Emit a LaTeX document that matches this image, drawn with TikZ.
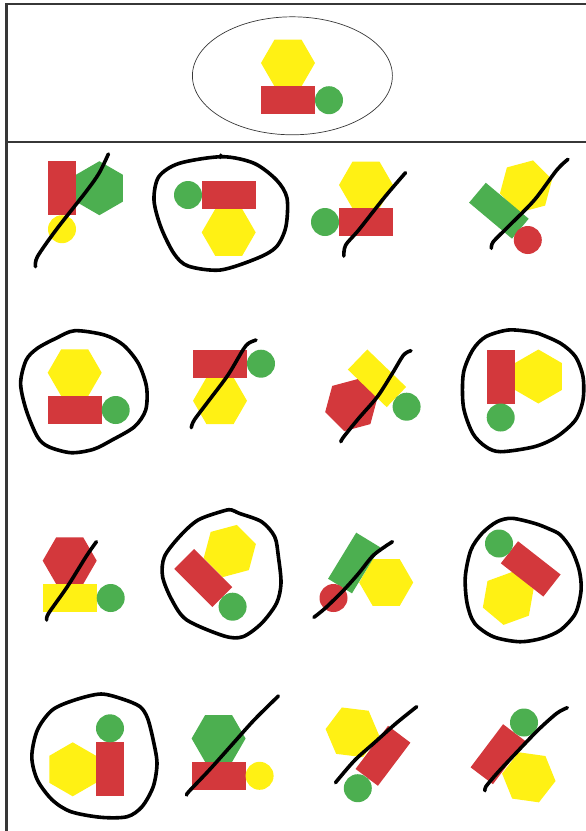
\documentclass[tikz,border=0pt]{standalone}
\usepackage{xcolor}
\definecolor{formerouge}{RGB}{211,56,60}
\definecolor{formejaune}{RGB}{255,241,20}
\definecolor{formeverte}{RGB}{76,175,80}
\definecolor{cadregris}{RGB}{55,55,55}
\usetikzlibrary{positioning,shapes.geometric}
\tikzset{
  hexa/.style={regular polygon, regular polygon sides=6, minimum size=54pt,
               inner sep=0pt, outer sep=0pt},
  rect/.style={rectangle, minimum width=54pt, minimum height=28pt,
               inner sep=0pt, outer sep=0pt},
  rectv/.style={rect, minimum width=28pt, minimum height=54pt},
  rond/.style={circle, minimum size=28pt, inner sep=0pt, outer sep=0pt},
  trait/.style={line width=3.6pt, line cap=round, line join=round},
  boucle/.style={line width=3.6pt, line join=round}
}
\begin{document}
\begin{tikzpicture}[x=1pt,y=-1pt]
      \useasboundingbox (0,0) rectangle (586,831);
      % Cadre : filets gris a gauche, en haut et sous le modele
      \draw[cadregris, line width=2.4pt] (6.5,831) -- (6.5,4) -- (586,4);
      \draw[cadregris, line width=2pt] (6.5,141.5) -- (586,141.5);
      % Modele dans son ellipse
      \node[ellipse, draw=cadregris, line width=0.7pt, minimum width=200pt,
            minimum height=118pt] (modele) at (292.4,75.8) {};
      \node[hexa, fill=formejaune] (hexmod) at (288,63) {};
      \node[rect, fill=formerouge] (rectmod) at (288,100.2) {};
      \node[rond, fill=formeverte, right=0pt of rectmod] (rondmod) {};

      % Ligne 1
      \node[rectv, fill=formerouge] (rectA) at (62,188.2) {};
      \node[hexa, fill=formeverte, rotate=30] (hexA) at (99.4,188.2) {};
      \node[rond, fill=formejaune, below=0pt of rectA] (rondA) {};
      \draw[trait] plot[smooth] coordinates {(35.5,266.7) (37.4,256.7) (56,230)
        (86,191.7) (99,173.3) (108.4,154)};

      \node[rond, fill=formeverte] (rondB) at (188,195) {};
      \node[rect, fill=formerouge, right=0pt of rondB] (rectB) {};
      \node[hexa, fill=formejaune] (hexB) at (228.7,232.4) {};
      \draw[boucle] plot[smooth cycle] coordinates {(222.3,156.7) (254.1,163.3)
        (276.5,180) (287,198) (285.9,226.7) (276.5,246.7) (257.8,258)
        (220.5,270) (188,266) (173.8,253.3) (160.7,226.7) (154,200)
        (158.8,176.7) (179.4,163.3)};
      \draw[boucle] (219,158) -- (222,154.5);

      \node[hexa, fill=formejaune] (hexC) at (366,185) {};
      \node[rect, fill=formerouge] (rectC) at (366,222) {};
      \node[rond, fill=formeverte, left=0pt of rectC] (rondC) {};
      \draw[trait] plot[smooth] coordinates {(343.8,256) (345.7,245) (358.7,230)
        (385,196.7) (405.5,172.7)};

      \node[hexa, fill=formejaune, rotate=15] (hexD) at (526,186.5) {};
      \node[rect, fill=formeverte, minimum width=56pt, minimum height=26pt,
            rotate=-40] (rectD) at (498.9,210.7) {};
      \node[rond, fill=formerouge] (rondD) at (527.8,240) {};
      \draw[trait] plot[smooth] coordinates {(491.4,248.3) (493.3,241.7)
        (508.2,226.7) (534.4,200) (556.8,170) (568,159.3)};

      % Ligne 2
      \node[hexa, fill=formejaune] (hexE) at (74.7,372.7) {};
      \node[rect, fill=formerouge] (rectE) at (74.7,410) {};
      \node[rond, fill=formeverte, right=0pt of rectE] (rondE) {};
      \draw[boucle] plot[smooth cycle] coordinates {(74.7,330.7) (104.6,335)
        (123.3,345) (138.3,363.3) (146.5,386.7) (145.7,410) (134.5,426.7)
        (112.1,440) (93.4,449.3) (71,452.7) (48.6,446.7) (37.4,436.7)
        (26.2,410) (20.6,383.3) (26.2,360) (37.4,348.3) (56,338.3)};

      \node[hexa, fill=formejaune] (hexF) at (220,400.8) {};
      \node[rect, fill=formerouge] (rectF) at (220,363.7) {};
      \node[rond, fill=formeverte, right=0pt of rectF] (rondF) {};
      \draw[trait] plot[smooth] coordinates {(191.3,427.7) (194.3,420)
        (209.3,400) (228,375) (242.9,350) (248.5,343.3) (256,340)};

      \node[hexa, fill=formerouge, rotate=15] (hexG) at (351.3,405) {};
      \node[rect, fill=formejaune, rotate=-44] (rectG) at (377,378.3) {};
      \node[rond, fill=formeverte] (rondG) at (406.6,406.7) {};
      \draw[trait] plot[smooth] coordinates {(340.8,441.7) (343.8,436.7)
        (358.7,418.3) (377.4,396.7) (392.4,373.3) (403.6,355) (411,350.7)};

      \node[rectv, fill=formerouge] (rectH) at (500.7,376.5) {};
      \node[hexa, fill=formejaune, rotate=30] (hexH) at (538.4,376.5) {};
      \node[rond, fill=formeverte, below=0pt of rectH] (rondH) {};
      \draw[boucle] plot[smooth cycle] coordinates {(530.6,331.7) (538.1,333.3)
        (560.5,343.3) (575.5,356.7) (583,376.7) (583,400) (575.5,420)
        (556.8,436.7) (534.4,446.7) (500.7,451.7) (485.8,446.7) (472.7,433.3)
        (463.4,406.7) (463.4,373.3) (472.7,350) (485.8,336.7) (508.2,330)};

      % Ligne 3
      \node[hexa, fill=formerouge] (hexI) at (69.7,560.7) {};
      \node[rect, fill=formejaune] (rectI) at (69.7,598) {};
      \node[rond, fill=formeverte, right=0pt of rectI] (rondI) {};
      \draw[trait] plot[smooth] coordinates {(46.7,620) (48.6,613.3) (67.3,586.7)
        (86,556.7) (96.4,541.7)};

      \node[hexa, fill=formejaune, rotate=15] (hexJ) at (229.8,551) {};
      \node[rect, fill=formerouge, rotate=-45] (rectJ) at (203.3,578) {};
      \node[rond, fill=formeverte] (rondJ) at (232.6,606.7) {};
      \draw[boucle] plot[smooth cycle] coordinates {(231.7,510) (239.2,513.3)
        (261.6,521.7) (274.7,536.7) (278.4,556.7) (281,583.3) (276.5,603.3)
        (261.6,623.3) (242.9,636.7) (224.2,636) (186.8,620) (171.9,600)
        (162.6,576.7) (164.4,556.7) (179.4,536.7) (198.1,520) (224.2,510.7)};

      \node[hexa, fill=formejaune] (hexK) at (386.2,582.5) {};
      \node[rect, fill=formeverte, rotate=58.6] (rectK) at (354.1,563) {};
      \node[rond, fill=formerouge] (rondK) at (333.5,598) {};
      \draw[trait] plot[smooth] coordinates {(313.9,617.3) (325.1,608.3)
        (343.8,590) (358.7,573.3) (373.7,555) (392.4,541.7)};

      \node[hexa, fill=formejaune, rotate=20] (hexL) at (508.2,598.3) {};
      \node[rect, fill=formerouge, rotate=-38] (rectL) at (530.7,568.9) {};
      \node[rond, fill=formeverte] (rondL) at (499,543.5) {};
      \draw[boucle] plot[smooth cycle] coordinates {(549.3,529) (560.5,535)
        (571.7,550) (579.2,570) (581.1,590) (575.5,613.3) (560.5,630)
        (541.9,638.3) (519.4,641.7) (493.3,636.7) (474.6,623.3) (467.1,603.3)
        (465.3,576.7) (470.9,550) (482.1,533.3) (497,521.7) (512,518.3)
        (534.4,523.3)};

      % Ligne 4
      \node[hexa, fill=formejaune, rotate=30] (hexM) at (72.7,769.3) {};
      \node[rectv, fill=formerouge] (rectM) at (110,769.3) {};
      \node[rond, fill=formeverte, above=0pt of rectM] (rondM) {};
      \draw[boucle] plot[smooth cycle] coordinates {(100.9,694) (123.3,699.3)
        (140.1,706.7) (147.6,718.3) (153.2,740) (157,763.3) (153.2,786.7)
        (142,806.7) (127.1,816.7) (100.9,817.3) (71,811.7) (52.3,800)
        (37.4,780) (31.8,756.7) (37.4,730) (52.3,710) (74.7,700)};

      \node[hexa, fill=formeverte] (hexN) at (218.6,738.5) {};
      \node[rect, fill=formerouge] (rectN) at (218.6,775.8) {};
      \node[rond, fill=formejaune, right=0pt of rectN] (rondN) {};
      \draw[trait] plot[smooth] coordinates {(186.8,795) (188.7,791.7)
        (209.3,770) (231.7,745) (254.1,720) (278.4,696)};

      \node[hexa, fill=formejaune, rotate=-7] (hexO) at (352.4,732.3) {};
      \node[rect, fill=formerouge, rotate=53] (rectO) at (383,755.8) {};
      \node[rond, fill=formeverte] (rondO) at (357.8,788.2) {};
      \draw[trait] plot[smooth] coordinates {(335.6,782.7) (338.2,779.3)
        (355,760) (373.7,743.3) (396.1,723.3) (416.7,706.7)};

      \node[hexa, fill=formejaune, rotate=-8] (hexP) at (528.8,777.3) {};
      \node[rect, fill=formerouge, rotate=53] (rectP) at (498,754.2) {};
      \node[rond, fill=formeverte] (rondP) at (524,722.5) {};
      \draw[trait] plot[smooth] coordinates {(485,790.7) (485.8,786.7)
        (497,773.3) (515.7,753.3) (538.1,730) (556.8,713.3) (567.3,707.7)};
\end{tikzpicture}
\end{document}
